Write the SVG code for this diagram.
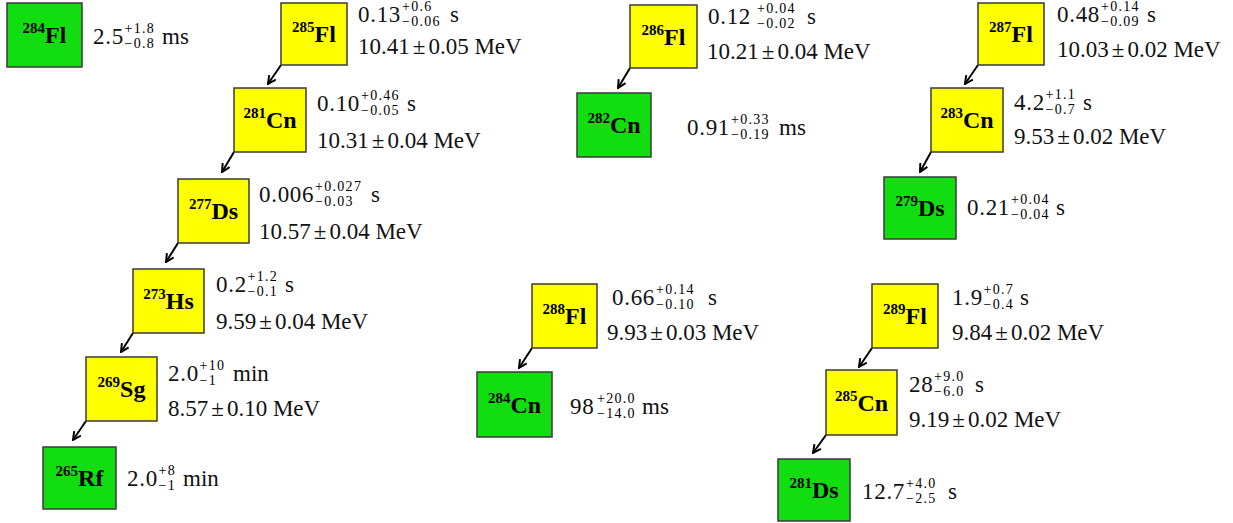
<svg xmlns="http://www.w3.org/2000/svg" width="1233" height="523" viewBox="0 0 1233 523">
<defs>
<style>
.y{fill:#ffff00;stroke:#3a3a3a;stroke-width:1.5}
.g{fill:#11dd11;stroke:#3a3a3a;stroke-width:1.5}
.lb{font-family:"Liberation Serif","Times New Roman",serif;font-weight:bold;font-size:24px;fill:#000;text-anchor:middle}
.ms{font-size:15px}
.v{font-family:"Liberation Serif","Times New Roman",serif;font-size:23px;fill:#111}
.n{font-family:"Liberation Serif","Times New Roman",serif;font-size:23px;letter-spacing:0.7px;fill:#111}
.ss{font-family:"Liberation Serif","Times New Roman",serif;font-size:14px;letter-spacing:1.3px;fill:#000}
.ar{stroke:#000;stroke-width:2;fill:none;marker-end:url(#ah)}
</style>
<marker id="ah" viewBox="0 0 10 10" refX="9" refY="5" markerWidth="10" markerHeight="10" markerUnits="userSpaceOnUse" orient="auto">
<path d="M1,1 L9,5 L1,9" fill="none" stroke="#000" stroke-width="2"/>
</marker>
</defs>
<rect width="1233" height="523" fill="#fff"/>

<g id="connectors">
<line class="ar" x1="281" y1="65" x2="268" y2="84"/>
<line class="ar" x1="234" y1="152" x2="222" y2="172"/>
<line class="ar" x1="178" y1="243" x2="166" y2="262"/>
<line class="ar" x1="133" y1="333" x2="121" y2="352"/>
<line class="ar" x1="86" y1="421" x2="73" y2="440"/>
<line class="ar" x1="630" y1="68" x2="618" y2="88"/>
<line class="ar" x1="978" y1="65" x2="965" y2="84"/>
<line class="ar" x1="931" y1="152" x2="920" y2="172"/>
<line class="ar" x1="532" y1="348" x2="519" y2="368"/>
<line class="ar" x1="872" y1="348" x2="859" y2="367"/>
<line class="ar" x1="826" y1="435" x2="813" y2="453"/>
</g>

<g id="n284Fl">
<rect class="g" x="7" y="3" width="75" height="64"/>
<text class="lb" x="44.5" y="43"><tspan class="ms" dy="-10">284</tspan><tspan dy="10">Fl</tspan></text>
<text class="n" x="93" y="44">2.5</text><text class="ss" x="124.5" y="32.5">+1.8</text><text class="ss" x="124.5" y="48">−0.8</text><text class="v" x="162" y="44">ms</text>
</g>

<g id="n285Fl">
<rect class="y" x="281" y="3" width="66" height="62"/>
<text class="lb" x="314" y="42"><tspan class="ms" dy="-10">285</tspan><tspan dy="10">Fl</tspan></text>
<text class="n" x="358" y="22">0.13</text><text class="ss" x="402" y="10.5">+0.6</text><text class="ss" x="402" y="26">−0.06</text><text class="v" x="450" y="22">s</text>
<text class="v" x="358" y="54">10.41<tspan dx="3">±</tspan><tspan dx="3">0.05 MeV</tspan></text>
</g>

<g id="n281Cn">
<rect class="y" x="234" y="88" width="72" height="64"/>
<text class="lb" x="270" y="128"><tspan class="ms" dy="-10">281</tspan><tspan dy="10">Cn</tspan></text>
<text class="n" x="317" y="111">0.10</text><text class="ss" x="361" y="99.5">+0.46</text><text class="ss" x="361" y="115">−0.05</text><text class="v" x="407" y="111">s</text>
<text class="v" x="317" y="148">10.31<tspan dx="3">±</tspan><tspan dx="3">0.04 MeV</tspan></text>
</g>

<g id="n277Ds">
<rect class="y" x="178" y="179" width="71" height="64"/>
<text class="lb" x="213.5" y="219"><tspan class="ms" dy="-10">277</tspan><tspan dy="10">Ds</tspan></text>
<text class="n" x="259" y="202">0.006</text><text class="ss" x="315" y="190.5">+0.027</text><text class="ss" x="315" y="206">−0.03</text><text class="v" x="371" y="202">s</text>
<text class="v" x="259" y="239">10.57<tspan dx="3">±</tspan><tspan dx="3">0.04 MeV</tspan></text>
</g>

<g id="n273Hs">
<rect class="y" x="133" y="269" width="71" height="64"/>
<text class="lb" x="168.5" y="309"><tspan class="ms" dy="-10">273</tspan><tspan dy="10">Hs</tspan></text>
<text class="n" x="216" y="292">0.2</text><text class="ss" x="247.5" y="280.5">+1.2</text><text class="ss" x="247.5" y="296">−0.1</text><text class="v" x="285" y="292">s</text>
<text class="v" x="216" y="329">9.59<tspan dx="3">±</tspan><tspan dx="3">0.04 MeV</tspan></text>
</g>

<g id="n269Sg">
<rect class="y" x="86" y="357" width="71" height="64"/>
<text class="lb" x="121.5" y="397"><tspan class="ms" dy="-10">269</tspan><tspan dy="10">Sg</tspan></text>
<text class="n" x="168" y="381">2.0</text><text class="ss" x="199.5" y="369.5">+10</text><text class="ss" x="199.5" y="385">−1</text><text class="v" x="233" y="381">min</text>
<text class="v" x="168" y="416">8.57<tspan dx="3">±</tspan><tspan dx="3">0.10 MeV</tspan></text>
</g>

<g id="n265Rf">
<rect class="g" x="43" y="447" width="73" height="62"/>
<text class="lb" x="79.5" y="486"><tspan class="ms" dy="-10">265</tspan><tspan dy="10">Rf</tspan></text>
<text class="n" x="127" y="486">2.0</text><text class="ss" x="158.5" y="474.5">+8</text><text class="ss" x="158.5" y="490">−1</text><text class="v" x="183" y="486">min</text>
</g>

<g id="n286Fl">
<rect class="y" x="630" y="5" width="67" height="63"/>
<text class="lb" x="663.5" y="44.5"><tspan class="ms" dy="-10">286</tspan><tspan dy="10">Fl</tspan></text>
<text class="n" x="708" y="24">0.12</text><text class="ss" x="757" y="12.5">+0.04</text><text class="ss" x="757" y="28">−0.02</text><text class="v" x="807" y="24">s</text>
<text class="v" x="707" y="59">10.21<tspan dx="3">±</tspan><tspan dx="3">0.04 MeV</tspan></text>
</g>

<g id="n282Cn">
<rect class="g" x="577" y="93" width="74" height="64"/>
<text class="lb" x="614" y="133"><tspan class="ms" dy="-10">282</tspan><tspan dy="10">Cn</tspan></text>
<text class="n" x="687" y="135">0.91</text><text class="ss" x="731" y="123.5">+0.33</text><text class="ss" x="731" y="139">−0.19</text><text class="v" x="779" y="135">ms</text>
</g>

<g id="n287Fl">
<rect class="y" x="978" y="3" width="66" height="62"/>
<text class="lb" x="1011" y="42"><tspan class="ms" dy="-10">287</tspan><tspan dy="10">Fl</tspan></text>
<text class="n" x="1057" y="22">0.48</text><text class="ss" x="1101" y="10.5">+0.14</text><text class="ss" x="1101" y="26">−0.09</text><text class="v" x="1147" y="22">s</text>
<text class="v" x="1057" y="57">10.03<tspan dx="3">±</tspan><tspan dx="3">0.02 MeV</tspan></text>
</g>

<g id="n283Cn">
<rect class="y" x="931" y="88" width="72" height="64"/>
<text class="lb" x="967" y="128"><tspan class="ms" dy="-10">283</tspan><tspan dy="10">Cn</tspan></text>
<text class="n" x="1014" y="110">4.2</text><text class="ss" x="1045.5" y="98.5">+1.1</text><text class="ss" x="1045.5" y="114">−0.7</text><text class="v" x="1083" y="110">s</text>
<text class="v" x="1014" y="144">9.53<tspan dx="3">±</tspan><tspan dx="3">0.02 MeV</tspan></text>
</g>

<g id="n279Ds">
<rect class="g" x="884" y="177" width="72" height="62"/>
<text class="lb" x="920" y="216"><tspan class="ms" dy="-10">279</tspan><tspan dy="10">Ds</tspan></text>
<text class="n" x="967" y="215">0.21</text><text class="ss" x="1011" y="203.5">+0.04</text><text class="ss" x="1011" y="219">−0.04</text><text class="v" x="1056" y="215">s</text>
</g>

<g id="n288Fl">
<rect class="y" x="532" y="284" width="65" height="64"/>
<text class="lb" x="564.5" y="324"><tspan class="ms" dy="-10">288</tspan><tspan dy="10">Fl</tspan></text>
<text class="n" x="612" y="305">0.66</text><text class="ss" x="656" y="293.5">+0.14</text><text class="ss" x="656" y="309">−0.10</text><text class="v" x="708" y="305">s</text>
<text class="v" x="607" y="340">9.93<tspan dx="3">±</tspan><tspan dx="3">0.03 MeV</tspan></text>
</g>

<g id="n284Cn">
<rect class="g" x="477" y="372" width="75" height="65"/>
<text class="lb" x="514.5" y="412.5"><tspan class="ms" dy="-10">284</tspan><tspan dy="10">Cn</tspan></text>
<text class="n" x="570" y="414">98</text><text class="ss" x="597" y="402.5">+20.0</text><text class="ss" x="597" y="418">−14.0</text><text class="v" x="642" y="414">ms</text>
</g>

<g id="n289Fl">
<rect class="y" x="872" y="284" width="66" height="64"/>
<text class="lb" x="905" y="324"><tspan class="ms" dy="-10">289</tspan><tspan dy="10">Fl</tspan></text>
<text class="n" x="952" y="305">1.9</text><text class="ss" x="983.5" y="293.5">+0.7</text><text class="ss" x="983.5" y="309">−0.4</text><text class="v" x="1020" y="305">s</text>
<text class="v" x="952" y="340">9.84<tspan dx="3">±</tspan><tspan dx="3">0.02 MeV</tspan></text>
</g>

<g id="n285Cn">
<rect class="y" x="826" y="370" width="71" height="65"/>
<text class="lb" x="861.5" y="410.5"><tspan class="ms" dy="-10">285</tspan><tspan dy="10">Cn</tspan></text>
<text class="n" x="909" y="392">28</text><text class="ss" x="934" y="380.5">+9.0</text><text class="ss" x="934" y="396">−6.0</text><text class="v" x="975" y="392">s</text>
<text class="v" x="909" y="427">9.19<tspan dx="3">±</tspan><tspan dx="3">0.02 MeV</tspan></text>
</g>

<g id="n281Ds">
<rect class="g" x="778" y="459" width="72" height="62"/>
<text class="lb" x="814" y="498"><tspan class="ms" dy="-10">281</tspan><tspan dy="10">Ds</tspan></text>
<text class="n" x="862" y="499">12.7</text><text class="ss" x="906" y="487.5">+4.0</text><text class="ss" x="906" y="503">−2.5</text><text class="v" x="948" y="499">s</text>
</g>
</svg>
